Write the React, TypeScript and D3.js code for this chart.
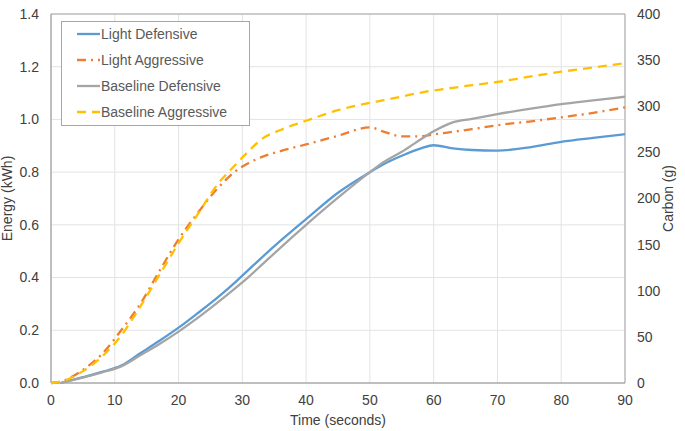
import React from "react";
import * as d3 from "d3";

const times = [0, 1.5, 5, 8, 11, 14, 17, 20, 23, 26, 29, 31, 33, 36, 40, 45, 50, 52, 55, 58, 60, 63, 66, 70, 75, 80, 85, 90];

const lightDefensive = [null, 0, 0.022, 0.042, 0.066, 0.113, 0.16, 0.21, 0.265, 0.322, 0.385, 0.43, 0.475, 0.54, 0.622, 0.722, 0.8, 0.828, 0.862, 0.89, 0.902, 0.89, 0.884, 0.882, 0.894, 0.915, 0.93, 0.944];
const lightAggressive = [0, 0.005, 0.05, 0.11, 0.2, 0.3, 0.425, 0.545, 0.645, 0.735, 0.805, 0.835, 0.857, 0.88, 0.905, 0.938, 0.97, 0.955, 0.936, 0.936, 0.943, 0.953, 0.963, 0.978, 0.992, 1.008, 1.025, 1.046];
const baselineDefensive = [null, 0, 0.02, 0.04, 0.063, 0.105, 0.148, 0.195, 0.247, 0.303, 0.362, 0.403, 0.447, 0.514, 0.6, 0.703, 0.8, 0.836, 0.877, 0.925, 0.955, 0.989, 1.002, 1.02, 1.04, 1.058, 1.072, 1.086];
const baselineAggressive = [0, 0.005, 0.045, 0.1, 0.18, 0.29, 0.41, 0.53, 0.64, 0.75, 0.83, 0.88, 0.925, 0.96, 0.995, 1.035, 1.063, 1.072, 1.087, 1.102, 1.11, 1.12, 1.13, 1.142, 1.162, 1.181, 1.197, 1.213];

const seriesNames = ["Light Defensive", "Light Aggressive", "Baseline Defensive", "Baseline Aggressive"];
const xTicks = [0, 10, 20, 30, 40, 50, 60, 70, 80, 90];
const yLeftTicks = [0, 0.2, 0.4, 0.6, 0.8, 1.0, 1.2, 1.4];
const yRightTicks = [0, 50, 100, 150, 200, 250, 300, 350, 400];

const seriesValues = [lightDefensive, lightAggressive, baselineDefensive, baselineAggressive];
const seriesStyles = [
  { color: "#5B9BD5", dash: "" },
  { color: "#ED7D31", dash: "9,5,2,5" },
  { color: "#A5A5A5", dash: "" },
  { color: "#FFC000", dash: "9,6" },
];

export default function App() {
  const W = 685, H = 431;
  const left = 51, right = 625, top = 14, bottom = 383;
  const x = d3.scaleLinear().domain([0, 90]).range([left, right]);
  const yL = d3.scaleLinear().domain([0, 1.4]).range([bottom, top]);
  const yR = d3.scaleLinear().domain([0, 400]).range([bottom, top]);
  const font = "'Liberation Sans', Arial, sans-serif";

  const line = d3
    .line<[number, number | null]>()
    .defined((d) => d[1] !== null)
    .x((d) => x(d[0]))
    .y((d) => yL(d[1] as number))
    .curve(d3.curveMonotoneX);

  const legendRows = [34, 60, 86, 112];

  return (
    <svg width={W} height={H} style={{ position: "absolute", left: 0, top: 0 }}>
      <rect x={0} y={0} width={W} height={H} fill="#fff" />
      {xTicks.map((t) => (
        <line key={"gx" + t} x1={x(t)} x2={x(t)} y1={top} y2={bottom} stroke="#e3e3e3" strokeWidth={1} />
      ))}
      {yLeftTicks.map((t) => (
        <line key={"gy" + t} x1={left} x2={right} y1={yL(t)} y2={yL(t)} stroke="#e3e3e3" strokeWidth={1} />
      ))}
      <line x1={left} x2={right} y1={top} y2={top} stroke="#a6a6a6" strokeWidth={1} />
      <line x1={right} x2={right} y1={top} y2={bottom} stroke="#a6a6a6" strokeWidth={1} />
      <line x1={left} x2={left} y1={top} y2={bottom} stroke="#8c8c8c" strokeWidth={1} />
      <line x1={left} x2={right} y1={bottom} y2={bottom} stroke="#8c8c8c" strokeWidth={1} />

      {seriesValues.map((vals, i) => (
        <path
          key={"s" + i}
          d={line(times.map((t, j) => [t, vals[j]] as [number, number | null])) || ""}
          fill="none"
          stroke={seriesStyles[i].color}
          strokeWidth={2.3}
          strokeDasharray={seriesStyles[i].dash || undefined}
        />
      ))}

      {yLeftTicks.map((t) => (
        <text key={"lt" + t} x={39} y={yL(t)} dy="0.35em" textAnchor="end" fontFamily={font} fontSize={14} fill="#404040">
          {t.toFixed(1)}
        </text>
      ))}
      {yRightTicks.map((t) => (
        <text key={"rt" + t} x={637} y={yR(t)} dy="0.35em" textAnchor="start" fontFamily={font} fontSize={14} fill="#404040">
          {t}
        </text>
      ))}
      {xTicks.map((t) => (
        <text key={"bt" + t} x={x(t)} y={405} textAnchor="middle" fontFamily={font} fontSize={14} fill="#404040">
          {t}
        </text>
      ))}

      <text x={338} y={425} textAnchor="middle" fontFamily={font} fontSize={14} fill="#404040">
        Time (seconds)
      </text>
      <text transform={`translate(12,${(top + bottom) / 2}) rotate(-90)`} textAnchor="middle" fontFamily={font} fontSize={14} fill="#404040">
        Energy (kWh)
      </text>
      <text transform={`translate(673,${(top + bottom) / 2}) rotate(-90)`} textAnchor="middle" fontFamily={font} fontSize={14} fill="#404040">
        Carbon (g)
      </text>

      <rect x={61.5} y={21.5} width={188} height={104} fill="#fff" stroke="#a6a6a6" strokeWidth={1} />
      {seriesNames.map((name, i) => (
        <g key={"lg" + i}>
          <line
            x1={77}
            x2={100}
            y1={legendRows[i]}
            y2={legendRows[i]}
            stroke={seriesStyles[i].color}
            strokeWidth={2.3}
            strokeDasharray={seriesStyles[i].dash || undefined}
          />
          <text x={101} y={legendRows[i]} dy="0.35em" fontFamily={font} fontSize={14} fill="#595959">
            {name}
          </text>
        </g>
      ))}
    </svg>
  );
}
